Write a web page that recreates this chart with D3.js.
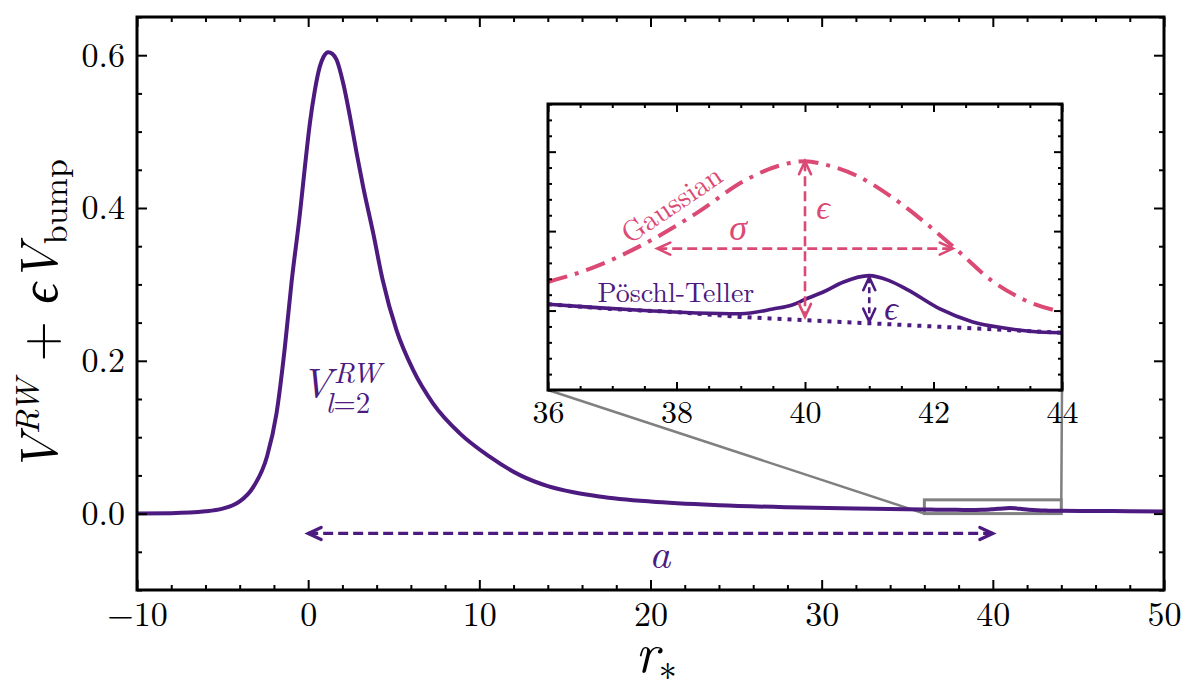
<!DOCTYPE html>
<html>
<head>
<meta charset="utf-8">
<title>Regge-Wheeler potential with bump</title>
<script src="https://d3js.org/d3.v7.min.js"></script>
<style>
  body { margin: 0; background: #fff; }
  svg text { font-family: "Latin Modern Roman", "CMU Serif", "Liberation Serif", "DejaVu Serif", serif; fill: #000; }
  .tick text { font-size: 34px; }
  .tick line { stroke: #000; stroke-width: 2; }
  .inset .tick text { font-size: 32px; }
</style>
</head>
<body>
<svg width="1196" height="690"></svg>
<script>
// main curve: r_* and V^RW (unperturbed)
const rwR = [-10, -8, -6, -5, -4.4, -4, -3.2, -2.4, -1.85, -1.36, -0.97, -0.48, -0.19, 0.1, 0.39, 0.68, 0.9,
             1.17, 1.4, 1.66, 2.05, 2.44, 2.83, 3.21, 3.8, 4.35, 5.16, 6.13, 7.3, 8.86, 10.6, 12.4, 14, 15.5, 17,
             20, 24, 28, 32, 36, 37, 38, 39, 40, 41, 42, 43, 44, 46, 48, 50];
const rwV = [0.0002, 0.0006, 0.003, 0.0065, 0.011, 0.016, 0.035, 0.075, 0.131, 0.218, 0.303, 0.393, 0.454, 0.511, 0.554, 0.585, 0.598,
             0.604, 0.602, 0.594, 0.563, 0.52, 0.472, 0.428, 0.367, 0.306, 0.24, 0.188, 0.144, 0.105, 0.0745, 0.050, 0.036, 0.028, 0.0225,
             0.0158, 0.011, 0.0083, 0.0066, 0.0054, 0.0051, 0.0049, 0.0046, 0.0044, 0.0042, 0.0040, 0.0038, 0.0036, 0.0034, 0.0031, 0.0029];

// Pöschl-Teller bumped potential (inset, solid)
const ptR = [36, 36.7, 37.5, 38.3, 39, 39.5, 39.8, 40, 40.3, 40.6, 41, 41.3, 41.6, 42.1, 42.6, 43.1, 43.5, 44];
const ptV = [0.0054, 0.0052, 0.0050, 0.00485, 0.0048, 0.0051, 0.00535, 0.0057, 0.0062, 0.0068, 0.0072, 0.0069, 0.0063, 0.0051, 0.0043, 0.0039, 0.0037, 0.0036];

// Gaussian bumped potential (inset, dash-dot)
const gR = [36, 36.7, 37.5, 38.3, 39.07, 39.58, 40, 40.3, 40.8, 41.33, 41.85, 42.37, 42.9, 43.4, 44];
const gV = [0.0068, 0.0077, 0.0092, 0.0111, 0.0132, 0.0141, 0.0144, 0.0142, 0.0135, 0.0122, 0.0106, 0.0088, 0.0069, 0.0057, 0.0049];

// tick labels
const mainXTicks = [-10, 0, 10, 20, 30, 40, 50];
const mainYTicks = [0, 0.2, 0.4, 0.6];
const insetXTicks = [36, 38, 40, 42, 44];
const insetYTicks = [0.005, 0.010, 0.015];

// annotation extents (a, sigma, epsilons)
const aRange = [0, 40], aLevel = -0.026;
const sigmaRange = [37.7, 42.3], sigmaLevel = 0.0089;
const epsGauss = [40, 0.0144, 0.0046];
const epsPT = [41, 0.0071, 0.0043];
const zoomBox = [36, 44, 0, 0.018];

const purple = "#4d1a80", pink = "#db4a75", gray = "#808080";

const svg = d3.select("svg");

// scales
const mx = d3.scaleLinear().domain([-10, 50]).range([137, 1164]);
const my = d3.scaleLinear().domain([-0.1, 0.65]).range([590, 17]);
const ix = d3.scaleLinear().domain([36, 44]).range([548, 1062]);
const iy = d3.scaleLinear().domain([0, 0.018]).range([390, 104]);

// tick helper: inward ticks, no domain line
function ticks(g, axisFn, scale, values, size, fmt, pad) {
  const ax = axisFn(scale).tickValues(values).tickSizeInner(-size).tickSizeOuter(0).tickPadding(pad || 0);
  ax.tickFormat(fmt || (() => ""));
  g.call(ax);
  g.select(".domain").remove();
}

function minor(scale, step, majors) {
  const [a, b] = scale.domain();
  return d3.range(Math.ceil(a / step) * step, b + step / 2, step)
    .map(v => +v.toFixed(6))
    .filter(v => !majors.some(m => Math.abs(m - v) < 1e-9));
}

function frameTicks(g, xs, ys, xMaj, xMin, yMaj, yMin, xFmt, yFmt, big, small, xPad, yPad) {
  const [x0, x1] = xs.range(), [y0, y1] = ys.range();
  ticks(g.append("g").attr("transform", `translate(0,${y0})`), d3.axisBottom, xs, xMaj, big, xFmt, xPad);
  ticks(g.append("g").attr("transform", `translate(0,${y0})`), d3.axisBottom, xs, xMin, small);
  ticks(g.append("g").attr("transform", `translate(0,${y1})`), d3.axisTop, xs, xMaj, big);
  ticks(g.append("g").attr("transform", `translate(0,${y1})`), d3.axisTop, xs, xMin, small);
  ticks(g.append("g").attr("transform", `translate(${x0},0)`), d3.axisLeft, ys, yMaj, big, yFmt, yPad);
  ticks(g.append("g").attr("transform", `translate(${x0},0)`), d3.axisLeft, ys, yMin, small);
  ticks(g.append("g").attr("transform", `translate(${x1},0)`), d3.axisRight, ys, yMaj, big);
  ticks(g.append("g").attr("transform", `translate(${x1},0)`), d3.axisRight, ys, yMin, small);
  g.append("rect")
    .attr("x", x0).attr("y", y1).attr("width", x1 - x0).attr("height", y0 - y1)
    .attr("fill", "none").attr("stroke", "#000").attr("stroke-width", 3);
}

// dashed double arrow with open chevron heads
function arrow(g, p1, p2, color, width, dash) {
  g.append("line")
    .attr("x1", p1[0]).attr("y1", p1[1]).attr("x2", p2[0]).attr("y2", p2[1])
    .attr("stroke", color).attr("stroke-width", width).attr("stroke-dasharray", dash);
  const L = 13, W = 6;
  [[p1, p2], [p2, p1]].forEach(([tip, from]) => {
    const dx = tip[0] - from[0], dy = tip[1] - from[1], len = Math.hypot(dx, dy);
    const ux = dx / len, uy = dy / len, nx = -uy, ny = ux;
    g.append("path")
      .attr("d", `M${tip[0] - ux * L + nx * W},${tip[1] - uy * L + ny * W}L${tip[0]},${tip[1]}L${tip[0] - ux * L - nx * W},${tip[1] - uy * L - ny * W}`)
      .attr("fill", "none").attr("stroke", color).attr("stroke-width", width)
      .attr("stroke-linejoin", "miter").attr("stroke-linecap", "round");
  });
}

const rw = rwR.map((r, i) => ({r, v: rwV[i]}));
const pt = ptR.map((r, i) => ({r, v: ptV[i]}));
const gauss = gR.map((r, i) => ({r, v: gV[i]}));
const mainData = rw.filter(d => d.r < 36).concat(pt, rw.filter(d => d.r > 44));

// ---------- main plot ----------
const main = svg.append("g");

// zoom box and connectors
main.append("rect")
  .attr("x", mx(zoomBox[0])).attr("y", my(zoomBox[3]))
  .attr("width", mx(zoomBox[1]) - mx(zoomBox[0])).attr("height", my(zoomBox[2]) - my(zoomBox[3]))
  .attr("fill", "none").attr("stroke", gray).attr("stroke-width", 3);
main.append("line")
  .attr("x1", mx(zoomBox[0])).attr("y1", my(zoomBox[2])).attr("x2", ix(36)).attr("y2", iy(0))
  .attr("stroke", gray).attr("stroke-width", 2.5);
main.append("line")
  .attr("x1", mx(zoomBox[1])).attr("y1", my(zoomBox[3])).attr("x2", ix(44)).attr("y2", iy(0))
  .attr("stroke", gray).attr("stroke-width", 2.5);

const mainLine = d3.line().x(d => mx(d.r)).y(d => my(d.v)).curve(d3.curveMonotoneX);
main.append("path").datum(mainData)
  .attr("d", mainLine).attr("fill", "none").attr("stroke", purple).attr("stroke-width", 4);

arrow(main, [mx(aRange[0]), my(aLevel)], [mx(aRange[1]), my(aLevel)], purple, 3.2, "10 5");
main.append("text")
  .attr("x", mx(20.54)).attr("y", my(-0.0712))
  .attr("text-anchor", "middle").style("font-size", "42px").style("font-style", "italic")
  .style("fill", purple).text("a");

const vl = main.append("text")
  .attr("transform", `translate(${mx(-0.43)},${my(0.151)})`)
  .style("fill", purple);
vl.append("tspan").attr("x", 0).attr("y", 0).style("font-size", "42px").style("font-style", "italic").text("V");
vl.append("tspan").attr("x", 33).attr("y", -15).style("font-size", "29px").style("font-style", "italic").text("RW");
vl.append("tspan").attr("x", 25).attr("y", 15).style("font-size", "29px").style("font-style", "italic").text("l");
vl.append("tspan").style("font-size", "29px").text("=2");

frameTicks(main, mx, my,
  mainXTicks, minor(mx, 2, mainXTicks),
  mainYTicks, minor(my, 0.05, mainYTicks),
  d3.format(""), d3.format(".1f"), 10, 5, 12, 12);

// axis titles
const yl = svg.append("text")
  .attr("transform", "translate(57,316) rotate(-90)")
  .attr("text-anchor", "middle").style("font-size", "52px");
yl.append("tspan").style("font-style", "italic").text("V");
yl.append("tspan").style("font-style", "italic").style("font-size", "34px").attr("dy", -18).text("RW");
yl.append("tspan").attr("dy", 18).text(" + ");
yl.append("tspan").style("font-style", "italic").text("ϵ");
yl.append("tspan").style("font-style", "italic").text("V");
yl.append("tspan").style("font-size", "34px").attr("dy", 10).text("bump");

const xl = svg.append("text")
  .attr("x", 656).attr("y", 672)
  .attr("text-anchor", "middle").style("font-size", "56px");
xl.append("tspan").style("font-style", "italic").text("r");
xl.append("tspan").style("font-size", "36px").attr("dy", 8).text("∗");

// ---------- inset ----------
const inset = svg.append("g").attr("class", "inset");
inset.append("rect")
  .attr("x", ix.range()[0]).attr("y", iy.range()[1])
  .attr("width", ix.range()[1] - ix.range()[0]).attr("height", iy.range()[0] - iy.range()[1])
  .attr("fill", "#fff");

const insetLine = d3.line().x(d => ix(d.r)).y(d => iy(d.v)).curve(d3.curveMonotoneX);

inset.append("path").datum(rw.filter(d => d.r >= 36 && d.r <= 44))
  .attr("d", insetLine).attr("fill", "none").attr("stroke", purple)
  .attr("stroke-width", 4).attr("stroke-dasharray", "4 6");

inset.append("path").datum(gauss)
  .attr("d", insetLine).attr("fill", "none").attr("stroke", pink)
  .attr("stroke-width", 4).attr("stroke-dasharray", "20 8 4 8");

inset.append("path").datum(pt)
  .attr("d", insetLine).attr("fill", "none").attr("stroke", purple).attr("stroke-width", 3.6);

arrow(inset, [ix(sigmaRange[0]), iy(sigmaLevel)], [ix(sigmaRange[1]), iy(sigmaLevel)], pink, 2.6, "10 5");
arrow(inset, [ix(epsGauss[0]), iy(epsGauss[1])], [ix(epsGauss[0]), iy(epsGauss[2])], pink, 2.6, "10 5");
arrow(inset, [ix(epsPT[0]), iy(epsPT[1])], [ix(epsPT[0]), iy(epsPT[2])], purple, 2.6, "6 4");

inset.append("text")
  .attr("transform", `translate(${ix(37.9)},${iy(0.01183)}) rotate(-34)`)
  .attr("text-anchor", "middle").attr("dominant-baseline", "central")
  .style("font-size", "29px").style("fill", pink).text("Gaussian");
inset.append("text")
  .attr("x", ix(38.96)).attr("y", iy(0.0104))
  .attr("text-anchor", "middle").attr("dominant-baseline", "central")
  .style("font-size", "36px").style("font-style", "italic").style("fill", pink).text("σ");
inset.append("text")
  .attr("x", ix(40.28)).attr("y", iy(0.01164))
  .attr("text-anchor", "middle").attr("dominant-baseline", "central")
  .style("font-size", "34px").style("font-style", "italic").style("fill", pink).text("ϵ");
inset.append("text")
  .attr("x", ix(37.99)).attr("y", iy(0.00554))
  .attr("text-anchor", "middle")
  .style("font-size", "28px").style("fill", purple).text("Pöschl-Teller");
inset.append("text")
  .attr("x", ix(41.34)).attr("y", iy(0.00529))
  .attr("text-anchor", "middle").attr("dominant-baseline", "central")
  .style("font-size", "34px").style("font-style", "italic").style("fill", purple).text("ϵ");

frameTicks(inset, ix, iy,
  insetXTicks, minor(ix, 0.5, insetXTicks),
  insetYTicks, minor(iy, 0.001, insetYTicks),
  d3.format(""), () => "", 8, 4, 10, 0);
</script>
</body>
</html>
